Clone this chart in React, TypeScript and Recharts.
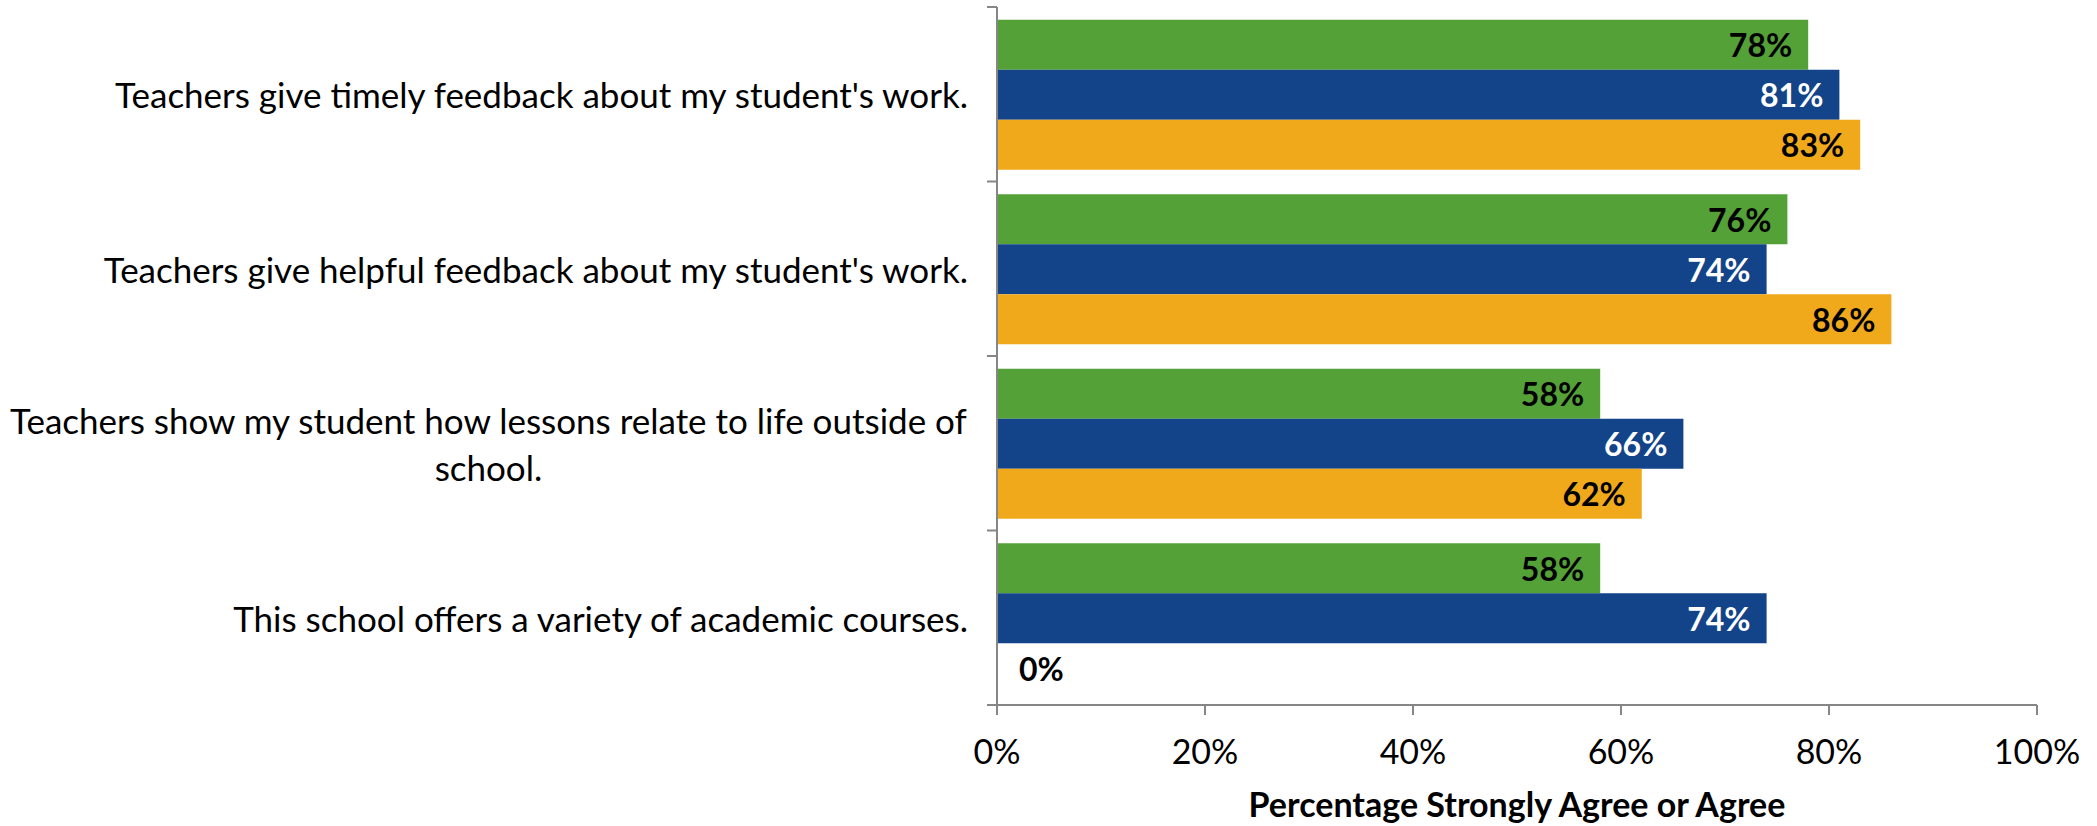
import { BarChart, Bar, XAxis, YAxis, LabelList } from "recharts";

const categories = [
  "Teachers give timely feedback about my student's work.",
  "Teachers give helpful feedback about my student's work.",
  "Teachers show my student how lessons relate to life outside of school.",
  "This school offers a variety of academic courses.",
];
const schoolValues = [78, 76, 58, 58];
const districtValues = [81, 74, 66, 74];
const stateValues = [83, 86, 62, 0];
const xTicks = [0, 20, 40, 60, 80, 100];

const data = categories.map((name, i) => ({
  name,
  school: schoolValues[i],
  district: districtValues[i],
  state: stateValues[i],
}));

const W = 2097;
const H = 826;
const PLOT_LEFT = 997;
const PLOT_TOP = 7;
const PLOT_BOTTOM = 705;
const BAND = (PLOT_BOTTOM - PLOT_TOP) / categories.length;
const FONT = "Lato, 'Open Sans', sans-serif";
const AXIS = "#868686";
const MAX_CHARS = 62;
const LINE_H = 47;
const LABEL_RIGHT = 968;
const CAT_SIZE = 35;

// simple word wrap by character count
function wrap(text: string) {
  const lines: string[] = [];
  let cur = "";
  for (const w of text.split(" ")) {
    const next = cur ? cur + " " + w : w;
    if (next.length > MAX_CHARS && cur) {
      lines.push(cur);
      cur = w;
    } else cur = next;
  }
  if (cur) lines.push(cur);
  return lines;
}

let ctx: CanvasRenderingContext2D | null = null;
function measure(s: string) {
  if (!ctx) ctx = document.createElement("canvas").getContext("2d");
  if (!ctx) return s.length * CAT_SIZE * 0.44;
  ctx.font = `${CAT_SIZE}px ${FONT}`;
  return ctx.measureText(s).width;
}

function CategoryTick(props: any) {
  const { y, payload, index } = props;
  const lines = wrap(String(payload.value));
  const firstDy = -((lines.length - 1) * LINE_H) / 2;
  // multi-line labels are centred on their widest line, right edge at LABEL_RIGHT
  const multi = lines.length > 1;
  const widest = multi ? Math.max(...lines.map(measure)) : 0;
  const tx = multi ? LABEL_RIGHT - widest / 2 : LABEL_RIGHT;
  return (
    <g>
      <line x1={PLOT_LEFT - 10} x2={PLOT_LEFT} y1={y - BAND / 2} y2={y - BAND / 2} stroke={AXIS} strokeWidth={2} />
      {index === categories.length - 1 && (
        <line x1={PLOT_LEFT - 10} x2={PLOT_LEFT} y1={y + BAND / 2} y2={y + BAND / 2} stroke={AXIS} strokeWidth={2} />
      )}
      <text
        x={tx}
        y={y + firstDy}
        textAnchor={multi ? "middle" : "end"}
        dominantBaseline="central"
        fontSize={CAT_SIZE}
        fontFamily={FONT}
        fill="#000"
      >
        {lines.map((l, i) => (
          <tspan key={i} x={tx} dy={i === 0 ? 0 : LINE_H}>
            {l}
          </tspan>
        ))}
      </text>
    </g>
  );
}

const makeLabel = (color: string) => (props: any) => {
  const { x, y, width, height, value } = props;
  const zero = !value;
  return (
    <text
      x={zero ? PLOT_LEFT + 22 : x + width - 16}
      y={y + height / 2}
      textAnchor={zero ? "start" : "end"}
      dominantBaseline="central"
      fontSize={32}
      fontWeight={700}
      fontFamily={FONT}
      fill={zero ? "#000" : color}
    >
      {value}%
    </text>
  );
};

const zeroMin = (v: any) => (v === 0 ? 1 : 0);

export default function App() {
  return (
    <div style={{ position: "absolute", left: 0, top: 0, background: "#fff" }}>
      <BarChart
        width={W}
        height={H}
        data={data}
        layout="vertical"
        margin={{ top: PLOT_TOP, right: 60, bottom: 0, left: 0 }}
        barCategoryGap="7.3%"
        barGap={0}
      >
        <XAxis
          type="number"
          domain={[0, 100]}
          ticks={xTicks}
          tickFormatter={(v) => `${v}%`}
          height={121}
          stroke={AXIS}
          strokeWidth={2}
          tickSize={10}
          tickMargin={25}
          tick={{ fontSize: 34, fontFamily: FONT, fill: "#000" }}
          label={{
            value: "Percentage Strongly Agree or Agree",
            position: "insideBottom",
            offset: 9,
            fontSize: 34,
            fontWeight: 700,
            fontFamily: FONT,
            fill: "#000",
          }}
        />
        <YAxis
          type="category"
          dataKey="name"
          width={PLOT_LEFT}
          stroke={AXIS}
          strokeWidth={2}
          tickLine={false}
          tick={<CategoryTick />}
          interval={0}
        />
        <Bar dataKey="school" fill="#53A137" isAnimationActive={false}>
          <LabelList dataKey="school" content={makeLabel("#000")} />
        </Bar>
        <Bar dataKey="district" fill="#134388" isAnimationActive={false}>
          <LabelList dataKey="district" content={makeLabel("#fff")} />
        </Bar>
        <Bar dataKey="state" fill="#F0A91B" minPointSize={zeroMin} isAnimationActive={false}>
          <LabelList dataKey="state" content={makeLabel("#000")} />
        </Bar>
      </BarChart>
    </div>
  );
}
